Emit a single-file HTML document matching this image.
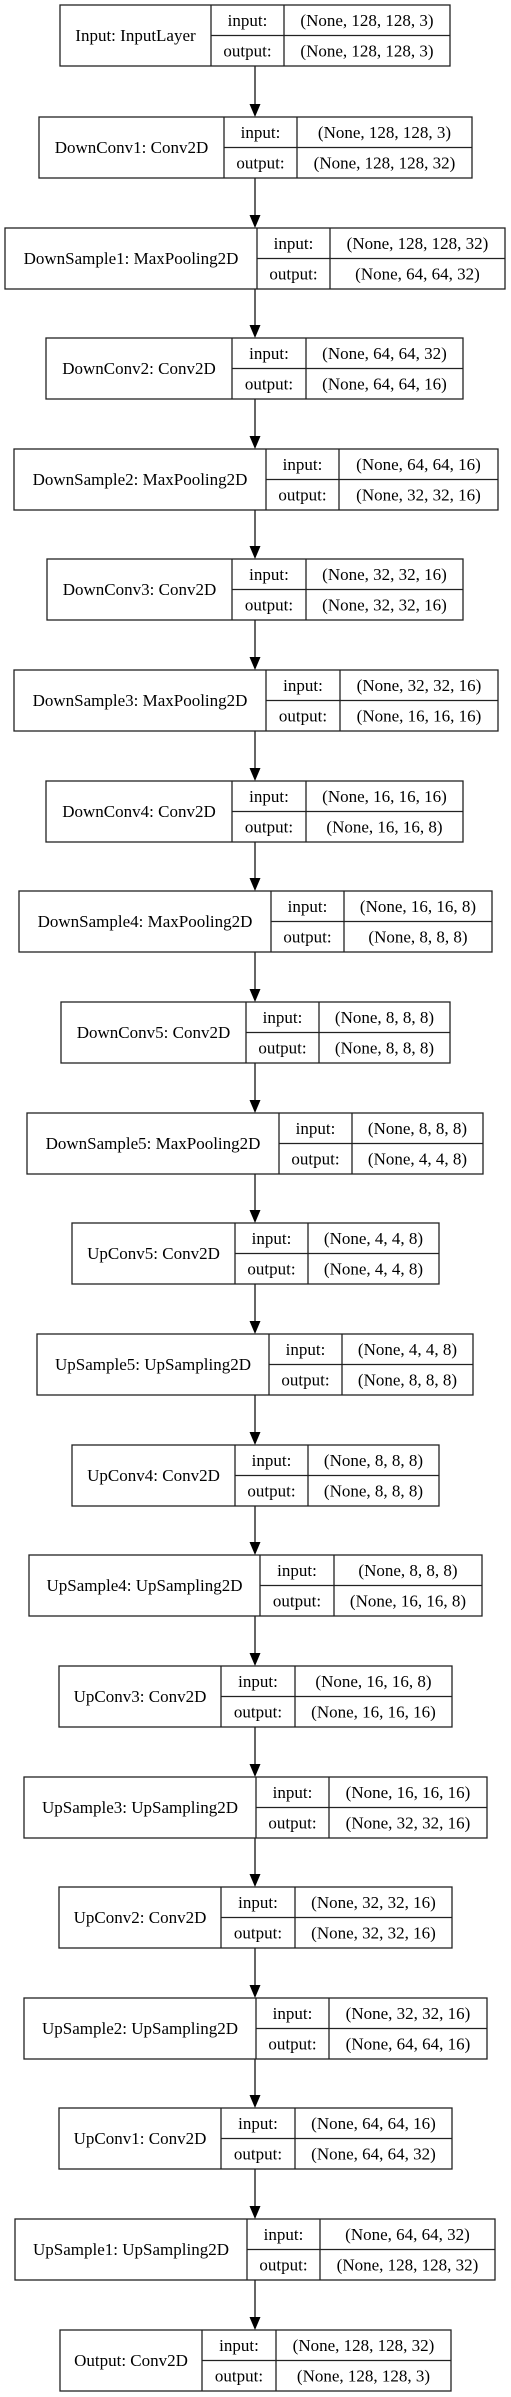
<!DOCTYPE html>
<html><head><meta charset="utf-8"><style>
html,body{margin:0;padding:0;background:#fff;width:511px;height:2397px;overflow:hidden}
svg{display:block}
text{font-family:"Liberation Serif",serif;font-size:17px;fill:#000;text-anchor:middle}
.b rect{fill:#fff;stroke:#222;stroke-width:1.3}
.b line{stroke:#222;stroke-width:1.3}
.a line{stroke:#000;stroke-width:1.2}
.a polygon{fill:#000}
</style></head><body>
<svg width="511" height="2397" viewBox="0 0 511 2397" xmlns="http://www.w3.org/2000/svg">
<g class="a">
<line x1="255" y1="66" x2="255" y2="106"/><polygon points="249.5,104 260.5,104 255,117"/>
<line x1="255" y1="178" x2="255" y2="217"/><polygon points="249.5,215 260.5,215 255,228"/>
<line x1="255" y1="289" x2="255" y2="327"/><polygon points="249.5,325 260.5,325 255,338"/>
<line x1="255" y1="399" x2="255" y2="438"/><polygon points="249.5,436 260.5,436 255,449"/>
<line x1="255" y1="510" x2="255" y2="548"/><polygon points="249.5,546 260.5,546 255,559"/>
<line x1="255" y1="620" x2="255" y2="659"/><polygon points="249.5,657 260.5,657 255,670"/>
<line x1="255" y1="731" x2="255" y2="770"/><polygon points="249.5,768 260.5,768 255,781"/>
<line x1="255" y1="842" x2="255" y2="880"/><polygon points="249.5,878 260.5,878 255,891"/>
<line x1="255" y1="952" x2="255" y2="991"/><polygon points="249.5,989 260.5,989 255,1002"/>
<line x1="255" y1="1063" x2="255" y2="1102"/><polygon points="249.5,1100 260.5,1100 255,1113"/>
<line x1="255" y1="1174" x2="255" y2="1212"/><polygon points="249.5,1210 260.5,1210 255,1223"/>
<line x1="255" y1="1284" x2="255" y2="1323"/><polygon points="249.5,1321 260.5,1321 255,1334"/>
<line x1="255" y1="1395" x2="255" y2="1434"/><polygon points="249.5,1432 260.5,1432 255,1445"/>
<line x1="255" y1="1506" x2="255" y2="1544"/><polygon points="249.5,1542 260.5,1542 255,1555"/>
<line x1="255" y1="1616" x2="255" y2="1655"/><polygon points="249.5,1653 260.5,1653 255,1666"/>
<line x1="255" y1="1727" x2="255" y2="1766"/><polygon points="249.5,1764 260.5,1764 255,1777"/>
<line x1="255" y1="1838" x2="255" y2="1876"/><polygon points="249.5,1874 260.5,1874 255,1887"/>
<line x1="255" y1="1948" x2="255" y2="1987"/><polygon points="249.5,1985 260.5,1985 255,1998"/>
<line x1="255" y1="2059" x2="255" y2="2097"/><polygon points="249.5,2095 260.5,2095 255,2108"/>
<line x1="255" y1="2169" x2="255" y2="2208"/><polygon points="249.5,2206 260.5,2206 255,2219"/>
<line x1="255" y1="2280" x2="255" y2="2319"/><polygon points="249.5,2317 260.5,2317 255,2330"/>
</g>

<g class="b" transform="translate(0,5)"><rect x="60" y="0" width="390" height="61"/><line x1="211" y1="0" x2="211" y2="61"/><line x1="284" y1="0" x2="284" y2="61"/><line x1="211" y1="30.5" x2="450" y2="30.5"/>
<text x="135.5" y="36">Input: InputLayer</text><text x="247.5" y="21">input:</text><text x="247.5" y="51.5">output:</text><text x="367" y="21">(None, 128, 128, 3)</text><text x="367" y="51.5">(None, 128, 128, 3)</text></g>

<g class="b" transform="translate(0,117)"><rect x="39" y="0" width="433" height="61"/><line x1="224" y1="0" x2="224" y2="61"/><line x1="297" y1="0" x2="297" y2="61"/><line x1="224" y1="30.5" x2="472" y2="30.5"/>
<text x="131.5" y="36">DownConv1: Conv2D</text><text x="260.5" y="21">input:</text><text x="260.5" y="51.5">output:</text><text x="384.5" y="21">(None, 128, 128, 3)</text><text x="384.5" y="51.5">(None, 128, 128, 32)</text></g>

<g class="b" transform="translate(0,228)"><rect x="5" y="0" width="500" height="61"/><line x1="257" y1="0" x2="257" y2="61"/><line x1="330" y1="0" x2="330" y2="61"/><line x1="257" y1="30.5" x2="505" y2="30.5"/>
<text x="131" y="36">DownSample1: MaxPooling2D</text><text x="293.5" y="21">input:</text><text x="293.5" y="51.5">output:</text><text x="417.5" y="21">(None, 128, 128, 32)</text><text x="417.5" y="51.5">(None, 64, 64, 32)</text></g>

<g class="b" transform="translate(0,338)"><rect x="46" y="0" width="417" height="61"/><line x1="232" y1="0" x2="232" y2="61"/><line x1="306" y1="0" x2="306" y2="61"/><line x1="232" y1="30.5" x2="463" y2="30.5"/>
<text x="139" y="36">DownConv2: Conv2D</text><text x="269" y="21">input:</text><text x="269" y="51.5">output:</text><text x="384.5" y="21">(None, 64, 64, 32)</text><text x="384.5" y="51.5">(None, 64, 64, 16)</text></g>

<g class="b" transform="translate(0,449)"><rect x="14" y="0" width="484" height="61"/><line x1="266" y1="0" x2="266" y2="61"/><line x1="339" y1="0" x2="339" y2="61"/><line x1="266" y1="30.5" x2="498" y2="30.5"/>
<text x="140" y="36">DownSample2: MaxPooling2D</text><text x="302.5" y="21">input:</text><text x="302.5" y="51.5">output:</text><text x="418.5" y="21">(None, 64, 64, 16)</text><text x="418.5" y="51.5">(None, 32, 32, 16)</text></g>

<g class="b" transform="translate(0,559)"><rect x="47" y="0" width="416" height="61"/><line x1="232" y1="0" x2="232" y2="61"/><line x1="306" y1="0" x2="306" y2="61"/><line x1="232" y1="30.5" x2="463" y2="30.5"/>
<text x="139.5" y="36">DownConv3: Conv2D</text><text x="269" y="21">input:</text><text x="269" y="51.5">output:</text><text x="384.5" y="21">(None, 32, 32, 16)</text><text x="384.5" y="51.5">(None, 32, 32, 16)</text></g>

<g class="b" transform="translate(0,670)"><rect x="14" y="0" width="484" height="61"/><line x1="266" y1="0" x2="266" y2="61"/><line x1="340" y1="0" x2="340" y2="61"/><line x1="266" y1="30.5" x2="498" y2="30.5"/>
<text x="140" y="36">DownSample3: MaxPooling2D</text><text x="303" y="21">input:</text><text x="303" y="51.5">output:</text><text x="419" y="21">(None, 32, 32, 16)</text><text x="419" y="51.5">(None, 16, 16, 16)</text></g>

<g class="b" transform="translate(0,781)"><rect x="46" y="0" width="417" height="61"/><line x1="232" y1="0" x2="232" y2="61"/><line x1="306" y1="0" x2="306" y2="61"/><line x1="232" y1="30.5" x2="463" y2="30.5"/>
<text x="139" y="36">DownConv4: Conv2D</text><text x="269" y="21">input:</text><text x="269" y="51.5">output:</text><text x="384.5" y="21">(None, 16, 16, 16)</text><text x="384.5" y="51.5">(None, 16, 16, 8)</text></g>

<g class="b" transform="translate(0,891)"><rect x="19" y="0" width="473" height="61"/><line x1="271" y1="0" x2="271" y2="61"/><line x1="344" y1="0" x2="344" y2="61"/><line x1="271" y1="30.5" x2="492" y2="30.5"/>
<text x="145" y="36">DownSample4: MaxPooling2D</text><text x="307.5" y="21">input:</text><text x="307.5" y="51.5">output:</text><text x="418" y="21">(None, 16, 16, 8)</text><text x="418" y="51.5">(None, 8, 8, 8)</text></g>

<g class="b" transform="translate(0,1002)"><rect x="61" y="0" width="389" height="61"/><line x1="246" y1="0" x2="246" y2="61"/><line x1="319" y1="0" x2="319" y2="61"/><line x1="246" y1="30.5" x2="450" y2="30.5"/>
<text x="153.5" y="36">DownConv5: Conv2D</text><text x="282.5" y="21">input:</text><text x="282.5" y="51.5">output:</text><text x="384.5" y="21">(None, 8, 8, 8)</text><text x="384.5" y="51.5">(None, 8, 8, 8)</text></g>

<g class="b" transform="translate(0,1113)"><rect x="27" y="0" width="456" height="61"/><line x1="279" y1="0" x2="279" y2="61"/><line x1="352" y1="0" x2="352" y2="61"/><line x1="279" y1="30.5" x2="483" y2="30.5"/>
<text x="153" y="36">DownSample5: MaxPooling2D</text><text x="315.5" y="21">input:</text><text x="315.5" y="51.5">output:</text><text x="417.5" y="21">(None, 8, 8, 8)</text><text x="417.5" y="51.5">(None, 4, 4, 8)</text></g>

<g class="b" transform="translate(0,1223)"><rect x="72" y="0" width="367" height="61"/><line x1="235" y1="0" x2="235" y2="61"/><line x1="308" y1="0" x2="308" y2="61"/><line x1="235" y1="30.5" x2="439" y2="30.5"/>
<text x="153.5" y="36">UpConv5: Conv2D</text><text x="271.5" y="21">input:</text><text x="271.5" y="51.5">output:</text><text x="373.5" y="21">(None, 4, 4, 8)</text><text x="373.5" y="51.5">(None, 4, 4, 8)</text></g>

<g class="b" transform="translate(0,1334)"><rect x="37" y="0" width="436" height="61"/><line x1="269" y1="0" x2="269" y2="61"/><line x1="342" y1="0" x2="342" y2="61"/><line x1="269" y1="30.5" x2="473" y2="30.5"/>
<text x="153" y="36">UpSample5: UpSampling2D</text><text x="305.5" y="21">input:</text><text x="305.5" y="51.5">output:</text><text x="407.5" y="21">(None, 4, 4, 8)</text><text x="407.5" y="51.5">(None, 8, 8, 8)</text></g>

<g class="b" transform="translate(0,1445)"><rect x="72" y="0" width="367" height="61"/><line x1="235" y1="0" x2="235" y2="61"/><line x1="308" y1="0" x2="308" y2="61"/><line x1="235" y1="30.5" x2="439" y2="30.5"/>
<text x="153.5" y="36">UpConv4: Conv2D</text><text x="271.5" y="21">input:</text><text x="271.5" y="51.5">output:</text><text x="373.5" y="21">(None, 8, 8, 8)</text><text x="373.5" y="51.5">(None, 8, 8, 8)</text></g>

<g class="b" transform="translate(0,1555)"><rect x="29" y="0" width="453" height="61"/><line x1="260" y1="0" x2="260" y2="61"/><line x1="334" y1="0" x2="334" y2="61"/><line x1="260" y1="30.5" x2="482" y2="30.5"/>
<text x="144.5" y="36">UpSample4: UpSampling2D</text><text x="297" y="21">input:</text><text x="297" y="51.5">output:</text><text x="408" y="21">(None, 8, 8, 8)</text><text x="408" y="51.5">(None, 16, 16, 8)</text></g>

<g class="b" transform="translate(0,1666)"><rect x="59" y="0" width="393" height="61"/><line x1="221" y1="0" x2="221" y2="61"/><line x1="295" y1="0" x2="295" y2="61"/><line x1="221" y1="30.5" x2="452" y2="30.5"/>
<text x="140" y="36">UpConv3: Conv2D</text><text x="258" y="21">input:</text><text x="258" y="51.5">output:</text><text x="373.5" y="21">(None, 16, 16, 8)</text><text x="373.5" y="51.5">(None, 16, 16, 16)</text></g>

<g class="b" transform="translate(0,1777)"><rect x="24" y="0" width="463" height="61"/><line x1="256" y1="0" x2="256" y2="61"/><line x1="329" y1="0" x2="329" y2="61"/><line x1="256" y1="30.5" x2="487" y2="30.5"/>
<text x="140" y="36">UpSample3: UpSampling2D</text><text x="292.5" y="21">input:</text><text x="292.5" y="51.5">output:</text><text x="408" y="21">(None, 16, 16, 16)</text><text x="408" y="51.5">(None, 32, 32, 16)</text></g>

<g class="b" transform="translate(0,1887)"><rect x="59" y="0" width="393" height="61"/><line x1="221" y1="0" x2="221" y2="61"/><line x1="295" y1="0" x2="295" y2="61"/><line x1="221" y1="30.5" x2="452" y2="30.5"/>
<text x="140" y="36">UpConv2: Conv2D</text><text x="258" y="21">input:</text><text x="258" y="51.5">output:</text><text x="373.5" y="21">(None, 32, 32, 16)</text><text x="373.5" y="51.5">(None, 32, 32, 16)</text></g>

<g class="b" transform="translate(0,1998)"><rect x="24" y="0" width="463" height="61"/><line x1="256" y1="0" x2="256" y2="61"/><line x1="329" y1="0" x2="329" y2="61"/><line x1="256" y1="30.5" x2="487" y2="30.5"/>
<text x="140" y="36">UpSample2: UpSampling2D</text><text x="292.5" y="21">input:</text><text x="292.5" y="51.5">output:</text><text x="408" y="21">(None, 32, 32, 16)</text><text x="408" y="51.5">(None, 64, 64, 16)</text></g>

<g class="b" transform="translate(0,2108)"><rect x="59" y="0" width="393" height="61"/><line x1="221" y1="0" x2="221" y2="61"/><line x1="295" y1="0" x2="295" y2="61"/><line x1="221" y1="30.5" x2="452" y2="30.5"/>
<text x="140" y="36">UpConv1: Conv2D</text><text x="258" y="21">input:</text><text x="258" y="51.5">output:</text><text x="373.5" y="21">(None, 64, 64, 16)</text><text x="373.5" y="51.5">(None, 64, 64, 32)</text></g>

<g class="b" transform="translate(0,2219)"><rect x="15" y="0" width="480" height="61"/><line x1="247" y1="0" x2="247" y2="61"/><line x1="320" y1="0" x2="320" y2="61"/><line x1="247" y1="30.5" x2="495" y2="30.5"/>
<text x="131" y="36">UpSample1: UpSampling2D</text><text x="283.5" y="21">input:</text><text x="283.5" y="51.5">output:</text><text x="407.5" y="21">(None, 64, 64, 32)</text><text x="407.5" y="51.5">(None, 128, 128, 32)</text></g>

<g class="b" transform="translate(0,2330)"><rect x="60" y="0" width="391" height="61"/><line x1="202" y1="0" x2="202" y2="61"/><line x1="276" y1="0" x2="276" y2="61"/><line x1="202" y1="30.5" x2="451" y2="30.5"/>
<text x="131" y="36">Output: Conv2D</text><text x="239" y="21">input:</text><text x="239" y="51.5">output:</text><text x="363.5" y="21">(None, 128, 128, 32)</text><text x="363.5" y="51.5">(None, 128, 128, 3)</text></g>
</svg>
</body></html>
